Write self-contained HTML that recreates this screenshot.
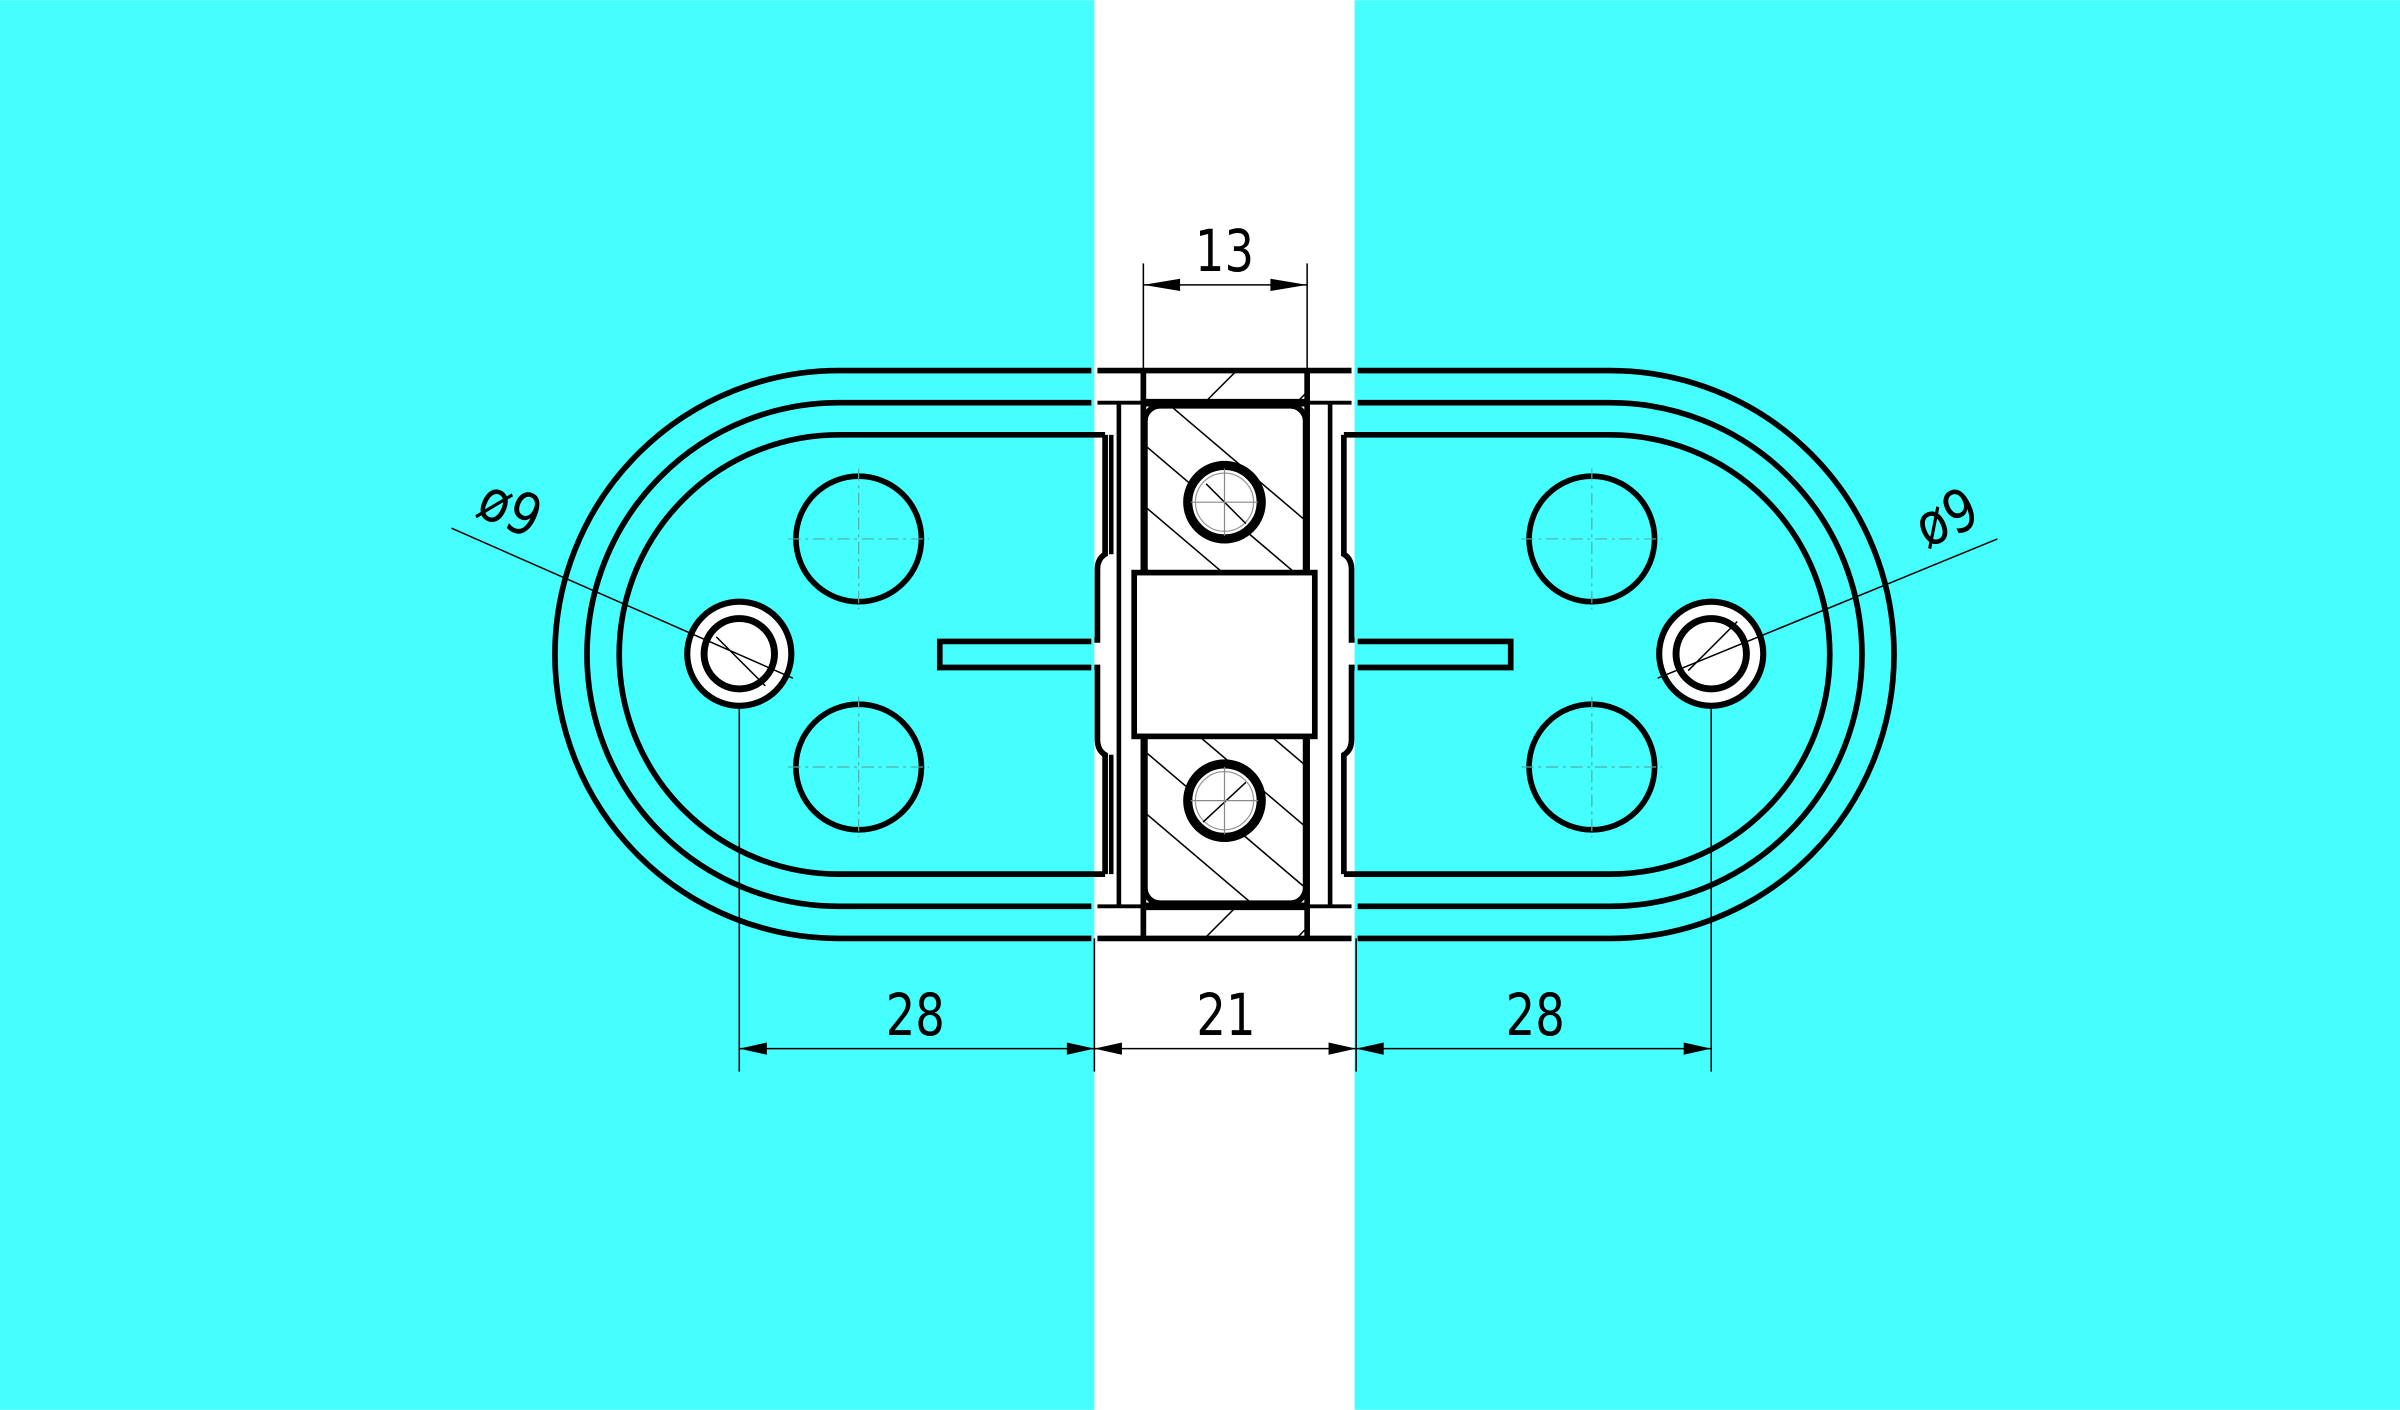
<!DOCTYPE html>
<html><head><meta charset="utf-8"><style>
html,body{margin:0;padding:0;background:#fff;}
svg{display:block;}
text{font-family:"DejaVu Sans","Liberation Sans",sans-serif;font-weight:normal;fill:#000;}
</style></head><body>
<svg width="2400" height="1410" viewBox="0 0 1568 921" xmlns="http://www.w3.org/2000/svg">
<defs>
<clipPath id="blk"><rect x="748" y="265" width="105" height="325" rx="10"/></clipPath>
<clipPath id="top"><rect x="748" y="243" width="105" height="20"/></clipPath>
<clipPath id="bot"><rect x="748" y="593" width="105" height="20"/></clipPath>
</defs>
<rect x="0" y="0" width="715" height="921" fill="#45FFFF"/>
<rect x="715" y="0" width="170" height="921" fill="#fff"/>
<rect x="885" y="0" width="683" height="921" fill="#45FFFF"/>

<g fill="none" stroke="#000" stroke-width="3.7">
<path d="M713 242 H548 A185.5 185.5 0 0 0 548 613 H713"/>
<path d="M713 263 H548 A164.5 164.5 0 0 0 548 592 H713"/>
<path d="M722 284 H548 A143.5 143.5 0 0 0 548 571 H722"/>
<path d="M887 242 H1052 A185.5 185.5 0 0 1 1052 613 H887"/>
<path d="M887 263 H1052 A164.5 164.5 0 0 1 1052 592 H887"/>
<path d="M878 284 H1052 A143.5 143.5 0 0 1 1052 571 H878"/>
<line x1="717" y1="242" x2="883" y2="242"/>
<line x1="717" y1="613" x2="883" y2="613"/>
<line x1="717" y1="263" x2="883" y2="263" stroke-width="2.5"/>
<line x1="717" y1="592" x2="883" y2="592" stroke-width="2.5"/>
<path d="M722 284 V362 Q717 365 717 372 V418 H715"/>
<path d="M715 436 H717 V483 Q717 490 722 493 V571"/>
<line x1="726" y1="284" x2="726" y2="362" stroke-width="3"/>
<line x1="726" y1="493" x2="726" y2="571" stroke-width="3"/>
<path d="M878 284 V362 Q883 365 883 372 V418 H885"/>
<path d="M885 436 H883 V483 Q883 490 878 493 V571"/>
<path d="M713 419 H614 V436 H713"/>
<path d="M887 419 H987 V436 H887"/>
<line x1="731" y1="263" x2="731" y2="592" stroke-width="3"/>
<line x1="869" y1="263" x2="869" y2="592" stroke-width="3"/>
<line x1="747" y1="242" x2="747" y2="613"/>
<line x1="854" y1="242" x2="854" y2="613"/>
</g>
<rect x="748" y="265" width="105" height="325" rx="10" fill="#fff" stroke="#000" stroke-width="3.7"/>
<line x1="747" y1="263" x2="854" y2="263" stroke="#000" stroke-width="5"/>
<line x1="747" y1="592" x2="854" y2="592" stroke="#000" stroke-width="5"/>
<g stroke="#000" stroke-width="1" fill="none">
<g clip-path="url(#blk)">
<line x1="700" y1="210" x2="900" y2="380"/>
<line x1="700" y1="250" x2="900" y2="420"/>
<line x1="700" y1="290" x2="900" y2="460"/>
<line x1="700" y1="330" x2="900" y2="500"/>
<line x1="700" y1="370" x2="900" y2="540"/>
<line x1="700" y1="410" x2="900" y2="580"/>
<line x1="700" y1="450" x2="900" y2="620"/>
<line x1="700" y1="490" x2="900" y2="660"/>
</g>
<g clip-path="url(#top)"><line x1="770" y1="280" x2="830" y2="220"/><line x1="830" y1="280" x2="870" y2="240"/></g>
<g clip-path="url(#bot)"><line x1="770" y1="630" x2="830" y2="570"/><line x1="830" y1="630" x2="870" y2="590"/></g>
</g>
<rect x="741" y="374" width="118" height="107" fill="#fff" stroke="#000" stroke-width="3.7"/>
<g>
<circle cx="800" cy="328" r="24" fill="#fff" stroke="#000" stroke-width="6"/>
<circle cx="800" cy="328" r="19" fill="none" stroke="#999" stroke-width="0.8"/>
<line x1="788" y1="316" x2="814" y2="342" stroke="#000" stroke-width="1"/>
<circle cx="800" cy="523" r="24" fill="#fff" stroke="#000" stroke-width="6"/>
<circle cx="800" cy="523" r="19" fill="none" stroke="#999" stroke-width="0.8"/>
<line x1="786" y1="537" x2="814" y2="511" stroke="#000" stroke-width="1"/>
</g>
<g stroke="#888" stroke-width="0.8">
<line x1="778" y1="328" x2="822" y2="328"/><line x1="800" y1="306" x2="800" y2="350"/>
<line x1="778" y1="523" x2="822" y2="523"/><line x1="800" y1="501" x2="800" y2="545"/>
</g>
<g fill="none" stroke="#000" stroke-width="3.7">
<circle cx="561" cy="352" r="41"/><circle cx="561" cy="501" r="41"/>
<circle cx="1040" cy="352" r="41"/><circle cx="1040" cy="501" r="41"/>
</g>
<g stroke="#5aa" stroke-width="0.8" stroke-dasharray="8 3 2 3">
<line x1="515" y1="352" x2="607" y2="352"/><line x1="561" y1="306" x2="561" y2="398"/>
<line x1="515" y1="501" x2="607" y2="501"/><line x1="561" y1="455" x2="561" y2="547"/>
<line x1="994" y1="352" x2="1086" y2="352"/><line x1="1040" y1="306" x2="1040" y2="398"/>
<line x1="994" y1="501" x2="1086" y2="501"/><line x1="1040" y1="455" x2="1040" y2="547"/>
</g>
<g>
<circle cx="483" cy="427" r="34" fill="#fff" stroke="#000" stroke-width="4"/>
<circle cx="483" cy="427" r="23" fill="#fff" stroke="#000" stroke-width="4.5"/>
<line x1="468" y1="416" x2="500" y2="448" stroke="#000" stroke-width="1"/>
<circle cx="1118" cy="427" r="34" fill="#fff" stroke="#000" stroke-width="4"/>
<circle cx="1118" cy="427" r="23" fill="#fff" stroke="#000" stroke-width="4.5"/>
<line x1="1103" y1="438" x2="1135" y2="406" stroke="#000" stroke-width="1"/>
</g>
<g stroke="#000" stroke-width="1" fill="none">
<line x1="295" y1="345" x2="518" y2="443"/>
<line x1="1305" y1="352" x2="1083" y2="443"/>
<line x1="747" y1="172" x2="747" y2="242"/>
<line x1="854" y1="172" x2="854" y2="242"/>
<line x1="747" y1="186" x2="854" y2="186"/>
<line x1="483" y1="461" x2="483" y2="700"/>
<line x1="1118" y1="461" x2="1118" y2="700"/>
<line x1="715" y1="613" x2="715" y2="700"/>
<line x1="886" y1="613" x2="886" y2="700"/>
<line x1="483" y1="685" x2="1118" y2="685"/>
</g>
<g fill="#000">
<path d="M747 186 l24 -4 v8z"/><path d="M854 186 l-24 -4 v8z"/>
<path d="M483 685 l18 -4 v8z"/><path d="M715 685 l-18 -4 v8z"/>
<path d="M715 685 l18 -4 v8z"/><path d="M886 685 l-18 -4 v8z"/>
<path d="M886 685 l18 -4 v8z"/><path d="M1118 685 l-18 -4 v8z"/>
</g>
<g font-size="38" text-anchor="middle">
<text x="800" y="177" transform="scale(0.8 1) translate(200 0)">13</text>
<text x="598" y="676" transform="translate(119.6 0) scale(0.8 1)">28</text>
<text x="801" y="676" transform="translate(160.2 0) scale(0.8 1)">21</text>
<text x="1003" y="676" transform="translate(200.6 0) scale(0.8 1)">28</text>
<text x="0" y="0" transform="translate(328 344) rotate(24) scale(0.85 1)">ø9</text>
<text x="0" y="0" transform="translate(1277 350) rotate(-24) scale(0.85 1)">ø9</text>
</g>
</svg>
</body></html>
